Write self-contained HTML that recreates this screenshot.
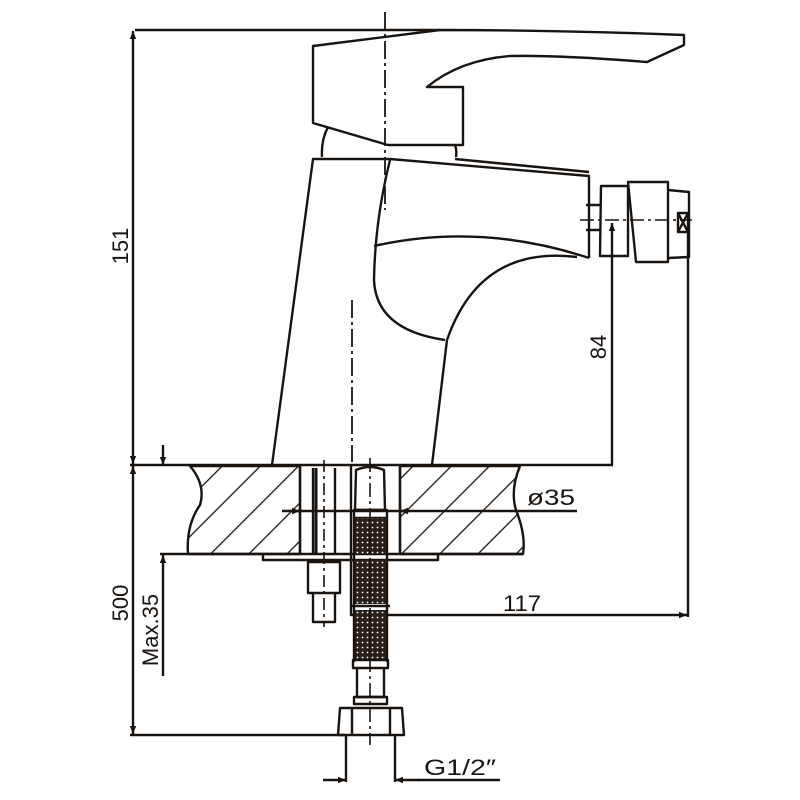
<!DOCTYPE html>
<html><head><style>html,body{margin:0;padding:0;background:#fff}svg{display:block}</style></head>
<body>
<svg width="800" height="800" viewBox="0 0 800 800" xmlns="http://www.w3.org/2000/svg" font-family="'Liberation Sans', 'DejaVu Sans', sans-serif">
<defs>
<pattern id="h" patternUnits="userSpaceOnUse" width="27" height="27" patternTransform="rotate(45)">
<line x1="0" y1="0" x2="0" y2="27" stroke="#1a1410" stroke-width="2.6"/>
</pattern>
<pattern id="mesh" patternUnits="userSpaceOnUse" width="5" height="5">
<rect width="5" height="5" fill="#2a201a"/><circle cx="2.5" cy="2.5" r="0.9" fill="#fff"/>
</pattern>
<marker id="a" viewBox="0 0 10 10" refX="10" refY="5" markerWidth="11" markerHeight="8" orient="auto-start-reverse" markerUnits="userSpaceOnUse"><path d="M0,1 L10,5 L0,9 z" fill="#1a1410"/></marker>
</defs>
<g stroke="#1a1410" stroke-width="2.4" fill="none" stroke-linejoin="round">
<path d="M190,466 L300,466 L300,554 L188,554 Q186,525 200,505 Q206,485 190,466 Z" fill="url(#h)"/>
<path d="M400,466 L520,466 Q510,490 516,510 Q526,535 523,554 L400,554 Z" fill="url(#h)"/>
<line x1="130" y1="465" x2="613" y2="465"/>
<line x1="160" y1="554" x2="523" y2="554"/>
<path d="M263,554 L263,560 L438,560 L438,554"/>
<path d="M313,46 L440,30 Q560,30 684,35 L684,45 L647,62 Q560,55 510,56 Q460,60 427,87 L463,87 L463,145 L388,145 L313,123 Z"/>
<path d="M328,127 Q321,140 322,157 M455,145 Q457,150 456,157"/>
<path d="M272,465 L313,159 L390,159"/>
<path d="M390,159 L589,176 L589,258"/>
<path d="M455,159 L589,172"/>
<path d="M374,246 Q480,222 589,258"/>
<path d="M390,160 Q375,220 374,280 Q376,330 445,340"/>
<path d="M577,257 Q480,245 447,340 L432,465"/>
<path d="M586,205 L601,205 M586,230 L601,230"/>
<path d="M601,186 L628,186 L628,256 L600,256 Z"/>
<path d="M628,182 L668,182 L668,262 L636,262 Z"/>
<path d="M668,190 L689,192 L689,257 L668,258"/>
<path d="M678,213 L688,213 L688,232 L678,232 Z M678,213 L688,232 M688,213 L678,232"/>
<line x1="385" y1="12" x2="385" y2="210" stroke-dasharray="18,4,3,4" stroke-width="1.8"/>
<line x1="352" y1="300" x2="352" y2="462" stroke-dasharray="18,4,3,4" stroke-width="1.8"/>
<line x1="580" y1="220" x2="692" y2="220" stroke-dasharray="14,4,3,4" stroke-width="1.6"/>
<line x1="135" y1="30" x2="440" y2="30"/>
<line x1="133" y1="31" x2="133" y2="464" marker-start="url(#a)" marker-end="url(#a)"/>
<line x1="612" y1="223" x2="612" y2="465" marker-start="url(#a)"/>
<line x1="688" y1="232" x2="688" y2="617"/>
<path d="M351,466 L351,615 L687,615" marker-end="url(#a)"/>
<line x1="300" y1="466" x2="300" y2="554"/><line x1="400" y1="466" x2="400" y2="554"/>
<path d="M313,468 L313,555 M335,468 L335,555"/>
<path d="M316,468 L316,555" stroke-width="3"/>
<path d="M308,562 L340,562 L340,593 L308,593 Z M313,593 L313,622 L335,622 L335,593"/>
<line x1="324" y1="460" x2="324" y2="627" stroke-dasharray="12,4,3,4" stroke-width="1.6"/>
<path d="M356,470 Q370,464 384,470 L385,510 L355,510 Z"/>
<rect x="354" y="510" width="33" height="8"/>
<rect x="355" y="518" width="31" height="36" fill="url(#mesh)" stroke="none"/>
<rect x="355" y="560" width="31" height="44" fill="url(#mesh)" stroke="none"/>
<line x1="350" y1="606" x2="390" y2="606"/>
<rect x="355" y="610" width="31" height="50" fill="url(#mesh)" stroke="none"/>
<path d="M354,518 L354,662 M387,518 L387,662"/>
<rect x="353" y="660" width="35" height="8"/>
<path d="M357,668 L357,697 L384,697 L384,668"/>
<path d="M354,697 L387,697 L387,704 L354,704 Z"/>
<path d="M340,708 L402,708 L404,735 L338,735 Z M352,708 L352,735 M390,708 L390,735"/>
<line x1="370" y1="458" x2="370" y2="745" stroke-dasharray="14,4,3,4" stroke-width="1.6"/>
<line x1="282" y1="511" x2="577" y2="511"/>
<line x1="290" y1="511" x2="300" y2="511" marker-end="url(#a)"/>
<line x1="410" y1="511" x2="400" y2="511" marker-end="url(#a)"/>
<line x1="133" y1="466" x2="133" y2="734" marker-start="url(#a)" marker-end="url(#a)"/>
<line x1="130" y1="735" x2="345" y2="735"/>
<line x1="163" y1="445" x2="163" y2="465" marker-end="url(#a)"/>
<line x1="163" y1="676" x2="163" y2="555" marker-end="url(#a)"/>
<line x1="346" y1="735" x2="346" y2="782"/><line x1="395" y1="735" x2="395" y2="782"/>
<line x1="323" y1="780" x2="346" y2="780" marker-end="url(#a)"/>
<line x1="420" y1="780" x2="395" y2="780" marker-end="url(#a)"/>
<line x1="418" y1="780" x2="500" y2="780"/>
</g>
<g fill="#1a1410" font-size="22">
<text x="527" y="505" textLength="48" lengthAdjust="spacingAndGlyphs">ø35</text>
<text x="503" y="611" textLength="38" lengthAdjust="spacingAndGlyphs">117</text>
<text x="424" y="775" textLength="72" lengthAdjust="spacingAndGlyphs">G1/2″</text>
<text transform="translate(128,246) rotate(-90)" text-anchor="middle">151</text>
<text transform="translate(606,347) rotate(-90)" text-anchor="middle">84</text>
<text transform="translate(128,603) rotate(-90)" text-anchor="middle">500</text>
<text transform="translate(158,630) rotate(-90)" text-anchor="middle">Max.35</text>
</g>
</svg>
</body></html>
